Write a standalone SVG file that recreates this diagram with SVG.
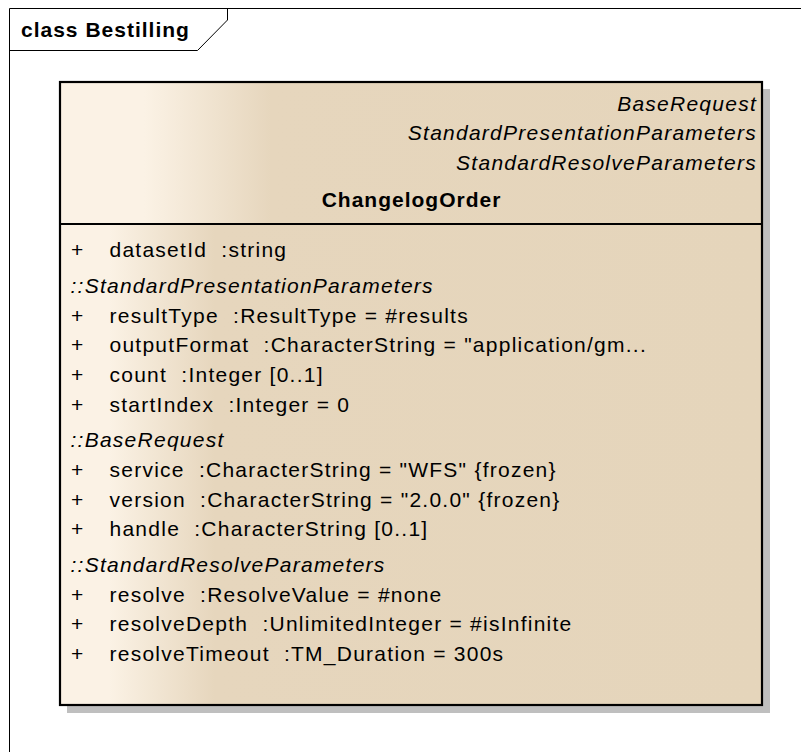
<svg xmlns="http://www.w3.org/2000/svg" width="801" height="752" viewBox="0 0 801 752">
  <style>
    text { font-family: "Liberation Sans", Arial, sans-serif; font-size: 21px; fill: #000; letter-spacing: 1.25px; white-space: pre; }
    .b { font-weight: bold; letter-spacing: 1px; }
    .i { font-style: italic; }
    .r { text-anchor: end; }
    .c { text-anchor: middle; }
    .frame { fill: none; stroke: #000; stroke-width: 1; }
    .edge { fill: none; stroke: #000; stroke-width: 2.2; }
  </style>
  <defs>
    <linearGradient id="headFill" x1="60" y1="0" x2="762" y2="0" gradientUnits="userSpaceOnUse">
      <stop offset="0" stop-color="#FBF2E5"/>
      <stop offset="0.12" stop-color="#FBF2E5"/>
      <stop offset="0.30" stop-color="#E6D6BD"/>
      <stop offset="1" stop-color="#E5D5BB"/>
    </linearGradient>
    <linearGradient id="bodyFill" x1="60" y1="0" x2="762" y2="0" gradientUnits="userSpaceOnUse">
      <stop offset="0" stop-color="#FBF2E5"/>
      <stop offset="0.07" stop-color="#FBF2E5"/>
      <stop offset="0.22" stop-color="#E6D6BD"/>
      <stop offset="1" stop-color="#E5D5BB"/>
    </linearGradient>
  </defs>

  <rect width="801" height="752" fill="#fff"/>

  <!-- diagram frame with name tab -->
  <g id="frame">
    <path class="frame" d="M9.5,752 V8.5 H801"/>
    <path class="frame" d="M9.5,50.5 H197.5 L227.5,20 V8.5"/>
    <text class="b" x="21" y="37">class Bestilling</text>
  </g>

  <g id="connectors"/>

  <!-- class ChangelogOrder -->
  <g id="ChangelogOrder">
    <rect x="67" y="89" width="703" height="624" fill="#BFBFBF"/>
    <rect x="60" y="82" width="702" height="142" fill="url(#headFill)"/>
    <rect x="60" y="224" width="702" height="481" fill="url(#bodyFill)"/>
    <rect class="edge" x="60" y="82" width="702" height="623"/>
    <line class="edge" x1="60" y1="224" x2="762" y2="224"/>

    <text class="i r" x="757" y="110.5">BaseRequest</text>
    <text class="i r" x="757" y="140">StandardPresentationParameters</text>
    <text class="i r" x="757" y="169.5">StandardResolveParameters</text>
    <text class="b c" x="411.5" y="207">ChangelogOrder</text>

    <text x="71" y="257">+</text><text x="109.5" y="257">datasetId  :string</text>
    <text class="i" x="70.5" y="293">::StandardPresentationParameters</text>
    <text x="71" y="322.6">+</text><text x="109.5" y="322.6">resultType  :ResultType = #results</text>
    <text x="71" y="352.2">+</text><text x="109.5" y="352.2">outputFormat  :CharacterString = "application/gm...</text>
    <text x="71" y="381.8">+</text><text x="109.5" y="381.8">count  :Integer [0..1]</text>
    <text x="71" y="412">+</text><text x="109.5" y="412">startIndex  :Integer = 0</text>
    <text class="i" x="70.5" y="447.3">::BaseRequest</text>
    <text x="71" y="477">+</text><text x="109.5" y="477">service  :CharacterString = "WFS" {frozen}</text>
    <text x="71" y="506.7">+</text><text x="109.5" y="506.7">version  :CharacterString = "2.0.0" {frozen}</text>
    <text x="71" y="536.3">+</text><text x="109.5" y="536.3">handle  :CharacterString [0..1]</text>
    <text class="i" x="70.5" y="572">::StandardResolveParameters</text>
    <text x="71" y="601.6">+</text><text x="109.5" y="601.6">resolve  :ResolveValue = #none</text>
    <text x="71" y="631.2">+</text><text x="109.5" y="631.2">resolveDepth  :UnlimitedInteger = #isInfinite</text>
    <text x="71" y="660.8">+</text><text x="109.5" y="660.8">resolveTimeout  :TM_Duration = 300s</text>
  </g>
</svg>
